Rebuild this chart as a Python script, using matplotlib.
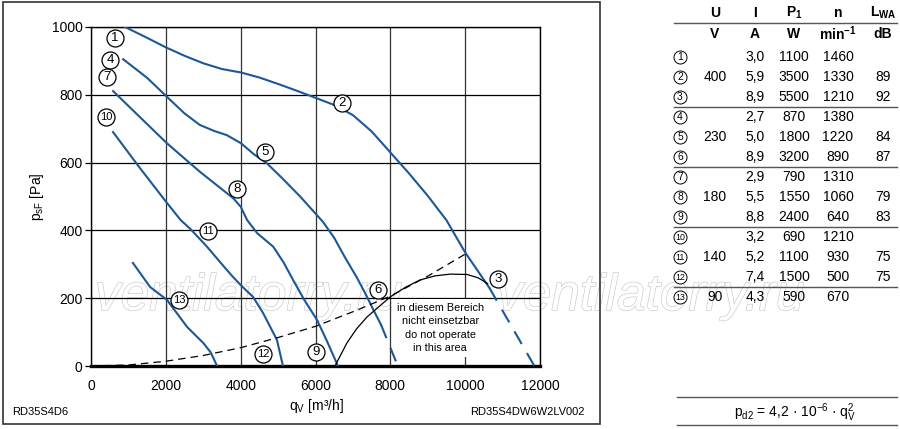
import matplotlib
matplotlib.use('Agg')
import matplotlib.pyplot as plt
import matplotlib.patheffects as pe
from matplotlib.patches import Rectangle
from matplotlib.lines import Line2D

plt.rcParams['font.family'] = ['Liberation Sans', 'DejaVu Sans']
plt.rcParams['mathtext.fontset'] = 'custom'
plt.rcParams['mathtext.rm'] = 'Liberation Sans'
plt.rcParams['mathtext.it'] = 'Liberation Sans:italic'
plt.rcParams['mathtext.bf'] = 'Liberation Sans:bold'

# ---------------- data ----------------
# 400 V curve (1-2-3)
q_400 = [910, 1500, 2000, 2500, 3000, 3500, 4000, 4500, 5000, 5500, 6000, 6500,
         7000, 7500, 8000, 8500, 9000, 9500, 10000, 10650]
p_400 = [1000, 968, 940, 915, 893, 876, 866, 851, 832, 812, 791, 770,
         740, 692, 630, 568, 502, 430, 335, 230]
q_400_dash = [10650, 11850]
p_400_dash = [230, 0]

# 230 V curve (4-5-6)
q_230 = [860, 1500, 2030, 2500, 2910, 3300, 3630, 4010, 4350, 4700, 5100, 5590,
         6200, 6500, 6800, 7100, 7350, 7550, 7750]
p_230 = [905, 850, 794, 745, 711, 693, 681, 657, 625, 598, 555, 500,
         425, 378, 318, 262, 210, 165, 122]
q_230_dash = [7750, 8200]
p_230_dash = [122, 0]

# 180 V curve (7-8-9)
q_180 = [590, 1300, 2030, 2500, 2910, 3400, 3800, 4000, 4170, 4440, 4870, 5150,
         5400, 5700, 6040, 6300, 6600]
p_180 = [811, 735, 657, 612, 573, 530, 495, 470, 431, 392, 352, 305,
         254, 195, 136, 75, 0]

# 140 V curve (10-11-12)
q_140 = [590, 1300, 2030, 2400, 2650, 3100, 3500, 3800, 4100, 4330, 4600, 4970, 5130]
p_140 = [690, 585, 481, 430, 405, 352, 300, 262, 228, 204, 156, 77, 0]

# 90 V curve (13)
q_90 = [1120, 1580, 2030, 2570, 3000, 3200, 3370]
p_90 = [304, 233, 195, 115, 68, 40, 0]

# system curve (dashed)
q_sys = [0, 1000, 2000, 3000, 4000, 5000, 6000, 7000, 8000, 9000, 10000]
p_sys = [0, 3, 14, 31, 54, 84, 117, 160, 206, 265, 330]

# operating limit (solid black)
q_lim = [6520, 6840, 7100, 7380, 8000, 8400, 8800, 9200, 9600, 10050, 10350, 10600]
p_lim = [0, 68, 110, 145, 204, 232, 254, 266, 271, 270, 260, 243]

# circled curve labels
lab_txt = ['1', '2', '3', '4', '5', '6', '7', '8', '9', '10', '11', '12', '13']
lab_q = [640, 6710, 10880, 510, 4650, 7670, 430, 3900, 6020, 400, 3130, 4600, 2350]
lab_p = [968, 776, 257, 903, 631, 224, 852, 522, 41, 735, 398, 35, 195]

x_ticks = [0, 2000, 4000, 6000, 8000, 10000, 12000]
y_ticks = [0, 200, 400, 600, 800, 1000]

# table
tbl_head = ['U', 'I', r'P$_\mathbf{1}$', 'n', r'L$_\mathbf{WA}$']
tbl_unit = ['V', 'A', 'W', r'min$^\mathbf{-1}$', 'dB']
tbl_num = ['1', '2', '3', '4', '5', '6', '7', '8', '9', '10', '11', '12', '13']
tbl_U = ['', '400', '', '', '230', '', '', '180', '', '', '140', '', '90']
tbl_I = ['3,0', '5,9', '8,9', '2,7', '5,0', '8,9', '2,9', '5,5', '8,8', '3,2', '5,2', '7,4', '4,3']
tbl_P = ['1100', '3500', '5500', '870', '1800', '3200', '790', '1550', '2400', '690', '1100', '1500', '590']
tbl_n = ['1460', '1330', '1210', '1380', '1220', '890', '1310', '1060', '640', '1210', '930', '500', '670']
tbl_L = ['', '89', '92', '', '84', '87', '', '79', '83', '', '75', '75', '']

# ---------------- figure ----------------
W, H = 900, 429
fig = plt.figure(figsize=(9, 4.29), dpi=100, facecolor='white')

# background overlay in pixel coordinates (frame, table, watermark)
ov = fig.add_axes([0, 0, 1, 1], zorder=0)
ov.set_xlim(0, W)
ov.set_ylim(H, 0)
ov.axis('off')
ov.patch.set_visible(False)

ax = fig.add_axes([91 / W, 1 - 366 / H, (540 - 91) / W, (366 - 27) / H], zorder=1)
ax.set_facecolor('none')
ax.set_xlim(0, 12000)
ax.set_ylim(0, 1000)
ax.set_xticks(x_ticks)
ax.set_yticks(y_ticks)
ax.set_axisbelow(True)
ax.grid(axis='y', color='black', lw=0.9)
ax.grid(axis='x', color='#333333', lw=0.9)
for s in ax.spines.values():
    s.set_color('black')
    s.set_linewidth(1.0)
ax.spines['bottom'].set_linewidth(2.4)
ax.tick_params(axis='y', length=4.5, width=0.9, pad=1.5, labelsize=10)
ax.tick_params(axis='x', length=0, pad=9, labelsize=10)

blue = '#1d5896'
lw = 1.5
ax.plot(q_400, p_400, color=blue, lw=lw, zorder=3)
ax.plot(q_400_dash, p_400_dash, color=blue, lw=lw, ls=(0, (7, 5)), zorder=3)
ax.plot(q_230, p_230, color=blue, lw=lw, zorder=3)
ax.plot(q_230_dash, p_230_dash, color=blue, lw=lw, ls=(0, (7, 5)), zorder=3)
ax.plot(q_180, p_180, color=blue, lw=lw, zorder=3)
ax.plot(q_140, p_140, color=blue, lw=lw, zorder=3)
ax.plot(q_90, p_90, color=blue, lw=lw, zorder=3)
ax.plot(q_sys, p_sys, color='black', lw=0.9, ls=(0, (6, 4)), zorder=3)
ax.plot(q_lim, p_lim, color='black', lw=0.9, zorder=3)

ax.text(9330, 112, 'in diesem Bereich\nnicht einsetzbar\ndo not operate\nin this area',
        ha='center', va='center', fontsize=7.8, linespacing=1.42, zorder=2.5,
        bbox=dict(fc='white', ec='none', pad=3))

ax.scatter(lab_q, lab_p, s=150, facecolor='white', edgecolor='black', lw=0.9, zorder=5)
for t, q, p in zip(lab_txt, lab_q, lab_p):
    ax.text(q, p, t, ha='center', va='center', fontsize=9.5 if len(t) == 1 else 8,
            zorder=6)

# watermark (behind the chart elements)
for x0 in [95, 497]:
    ov.text(x0, 310, 'ventilatorry.ru', fontsize=37, style='italic', ha='left',
            va='baseline', color='white', zorder=1,
            path_effects=[pe.withStroke(linewidth=0.9, foreground='#c8c8c8')])

ov.add_patch(Rectangle((3, 2), 597, 422, fill=False, ec='#333333', lw=1.2, zorder=3))
ov.text(12, 412, 'RD35S4D6', fontsize=8, ha='left', va='center', zorder=3)
ov.text(585, 412, 'RD35S4DW6W2LV002', fontsize=8, ha='right', va='center', zorder=3)
ov.text(316, 406, 'q$_\\mathrm{V}$ [m³/h]', fontsize=10, ha='center', va='center', zorder=3)
ov.text(37, 197, 'p$_\\mathrm{sF}$ [Pa]', fontsize=10, ha='center', va='center',
        rotation=90, zorder=3)

# table
col_x = [715, 755, 794, 838, 883]
for x, t in zip(col_x, tbl_head):
    ov.text(x, 13, t, fontsize=10, fontweight='bold', ha='center', va='center', zorder=3)
for x, t in zip(col_x, tbl_unit):
    ov.text(x, 34, t, fontsize=10, fontweight='bold', ha='center', va='center', zorder=3)
for y in [23, 107, 167, 227, 287]:
    ov.add_line(Line2D([674, 897], [y, y], color='#555555', lw=1.0, zorder=3))
row_y = [57 + 20 * i for i in range(len(tbl_num))]
ov.scatter([680] * len(row_y), row_y, s=88, facecolor='white', edgecolor='black',
           lw=0.7, zorder=4)
for i, y in enumerate(row_y):
    t = tbl_num[i]
    ov.text(680, y, t, fontsize=7.5 if len(t) == 1 else 6.3, ha='center', va='center', zorder=5)
    for x, v in zip(col_x, [tbl_U[i], tbl_I[i], tbl_P[i], tbl_n[i], tbl_L[i]]):
        if v:
            ov.text(x, y, v, fontsize=10, ha='center', va='center', zorder=5)

ov.add_line(Line2D([677, 897], [397, 397], color='#555555', lw=1.0, zorder=3))
ov.add_line(Line2D([677, 897], [425, 425], color='#555555', lw=1.0, zorder=3))
ov.text(795, 413, r'p$_\mathrm{d2}$ = 4,2 · 10$^\mathrm{-6}$ · q$_\mathrm{V}^\mathrm{2}$',
        fontsize=10, ha='center', va='center', zorder=3)

fig.savefig('out.png', dpi=100, facecolor='white')
